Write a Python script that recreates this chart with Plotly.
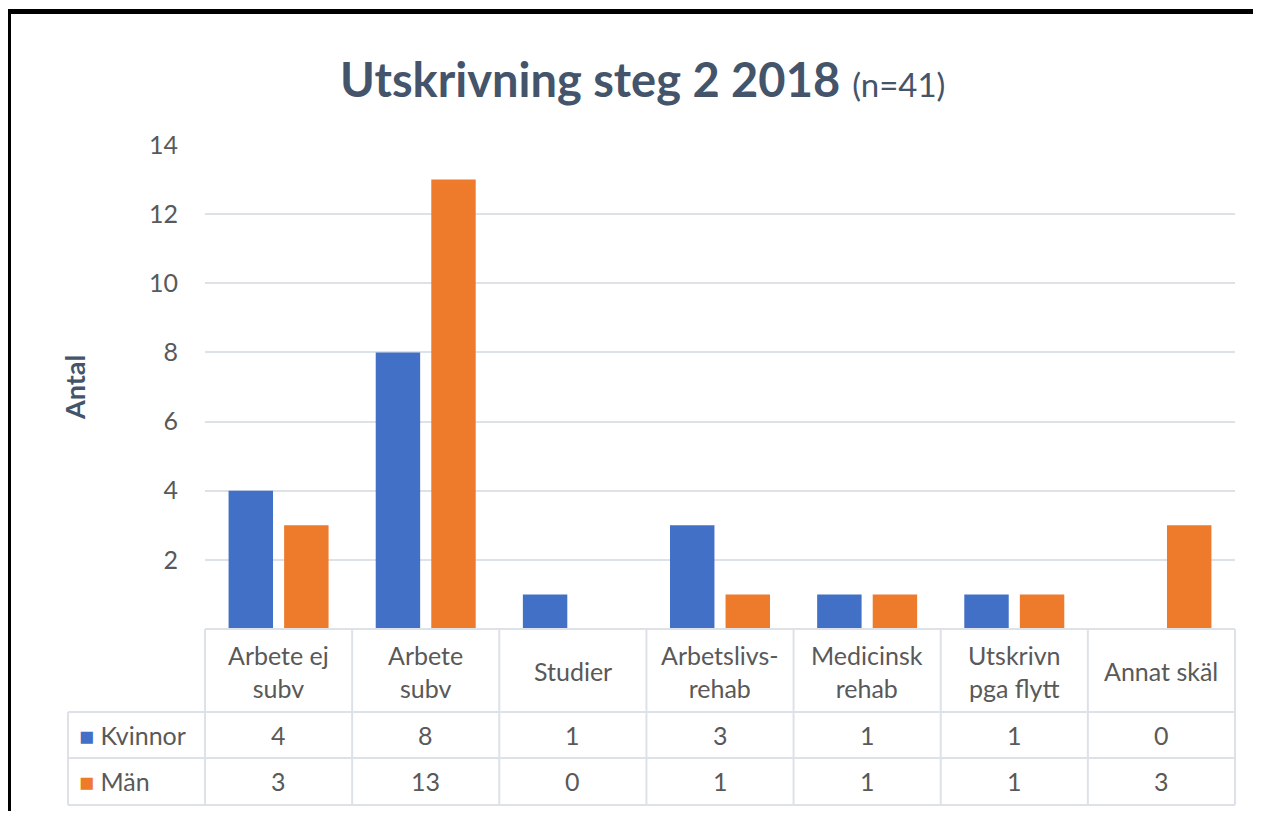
import plotly.graph_objects as go

categories = ["Arbete ej subv", "Arbete subv", "Studier", "Arbetslivs-rehab",
              "Medicinsk rehab", "Utskrivn pga flytt", "Annat skäl"]
category_labels = ["Arbete ej<br>subv", "Arbete<br>subv", "Studier", "Arbetslivs-<br>rehab",
                   "Medicinsk<br>rehab", "Utskrivn<br>pga flytt", "Annat skäl"]
series_names = ["Kvinnor", "Män"]
kvinnor = [4, 8, 1, 3, 1, 1, 0]
man = [3, 13, 0, 1, 1, 1, 3]
series_values = [kvinnor, man]
series_colors = ["#4270C6", "#EE7A2C"]
y_ticks = [2, 4, 6, 8, 10, 12, 14]

OFF = 8  # page body margin
W, H = 1261 - 2 * OFF, 823 - 2 * OFF - 4
L, R, T, B = 205, 1235, 145, 629  # plot area in page pixels


def px(x):
    return (x - L) / (R - L)


def py(y):
    return (B - y) / (B - T)


fig = go.Figure()
for name, vals, col in zip(series_names, series_values, series_colors):
    fig.add_trace(go.Bar(x=categories, y=vals, name=name,
                         marker=dict(color=col, line=dict(width=0)),
                         showlegend=False))

grey = "#595959"
dark = "#44546A"
line_col = "#DDE2E8"
font_fam = "Lato, 'Open Sans', sans-serif"
fs = 25

page_right = OFF + W
page_bottom = OFF + H

shapes = []
# outer frame (black at top/left)
shapes.append(dict(type="rect", xref="paper", yref="paper", x0=px(OFF), x1=px(page_right),
                   y0=py(page_bottom), y1=py(9), line=dict(width=0), fillcolor="black", layer="below"))
shapes.append(dict(type="rect", xref="paper", yref="paper", x0=px(11), x1=px(page_right),
                   y0=py(page_bottom), y1=py(14), line=dict(width=0), fillcolor="white", layer="below"))
# table lines
row_y = [B, 712, 758, 805]
for i, y in enumerate(row_y):
    x0 = px(L) if i == 0 else px(68)
    shapes.append(dict(type="line", xref="paper", yref="paper", x0=x0, x1=1, y0=py(y), y1=py(y),
                       line=dict(color=line_col, width=2)))
n = len(categories)
for i in range(n + 1):
    shapes.append(dict(type="line", xref="paper", yref="paper", x0=i / n, x1=i / n,
                       y0=py(B), y1=py(805), line=dict(color=line_col, width=2)))
shapes.append(dict(type="line", xref="paper", yref="paper", x0=px(68), x1=px(68),
                   y0=py(712), y1=py(805), line=dict(color=line_col, width=2)))

annotations = []
for cat, lab in zip(categories, category_labels):
    annotations.append(dict(x=cat, xref="x", y=py(671), yref="paper", text=lab, showarrow=False,
                            xanchor="center", yanchor="middle",
                            font=dict(size=fs, color=grey, family=font_fam)))
row_centers = [735, 781]
for name, vals, col, yc in zip(series_names, series_values, series_colors, row_centers):
    for cat, v in zip(categories, vals):
        annotations.append(dict(x=cat, xref="x", y=py(yc), yref="paper", text=str(v), showarrow=False,
                                xanchor="center", yanchor="middle",
                                font=dict(size=fs, color=grey, family=font_fam)))
    annotations.append(dict(x=px(77), xref="paper", y=py(yc), yref="paper",
                            text=f"<span style='color:{col}'>■</span> {name}", showarrow=False,
                            xanchor="left", yanchor="middle",
                            font=dict(size=fs, color=grey, family=font_fam)))
annotations.append(dict(x=px(74), xref="paper", y=py(388), yref="paper", text="<b>Antal</b>",
                        textangle=-90, showarrow=False, xanchor="center", yanchor="middle",
                        font=dict(size=27, color=dark, family=font_fam)))
annotations.append(dict(x=px(642), xref="paper", y=py(79), yref="paper",
                        text="<b>Utskrivning steg 2 2018</b> <span style='font-size:33px'>(n=41)</span>",
                        showarrow=False, xanchor="center", yanchor="middle",
                        font=dict(size=47, color=dark, family=font_fam)))

fig.update_layout(
    width=W, height=H,
    margin=dict(l=L - OFF, r=W - (R - OFF), t=T - OFF, b=H - (B - OFF), pad=0),
    paper_bgcolor="white", plot_bgcolor="white",
    barmode="group", bargap=0.245, bargroupgap=0.2,
    shapes=shapes, annotations=annotations,
    font=dict(family=font_fam, color=grey),
)
fig.update_xaxes(showticklabels=False, showgrid=False, zeroline=False, showline=False,
                 range=[-0.5, n - 0.5])
fig.update_yaxes(range=[0, 14], tickvals=y_ticks, showgrid=True, gridcolor=line_col, gridwidth=2,
                 zeroline=False, showline=False, ticks="", ticklabelstandoff=26,
                 tickfont=dict(size=fs, color=grey, family=font_fam))

fig.write_html("out.html")
